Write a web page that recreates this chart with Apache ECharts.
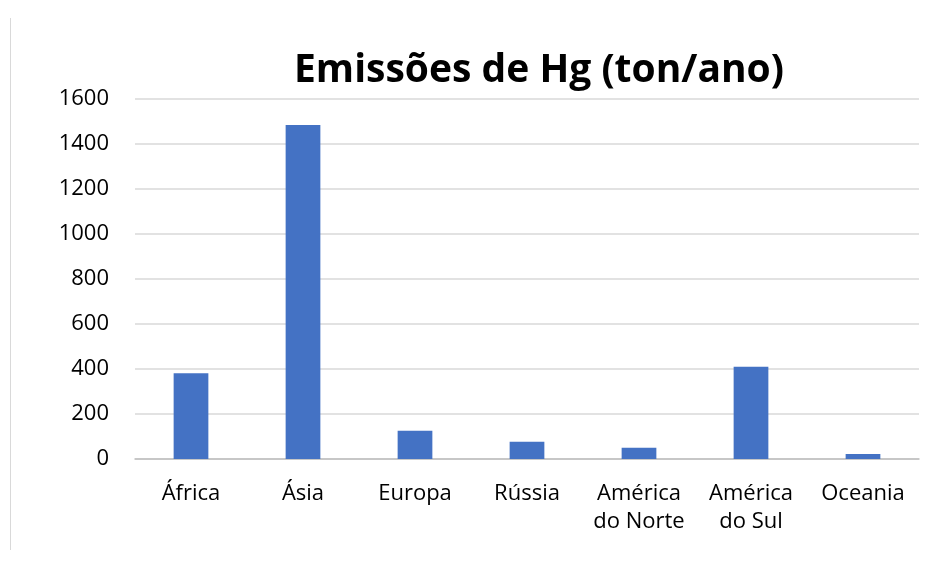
<!DOCTYPE html>
<html>
<head>
<meta charset="utf-8">
<script src="https://cdn.jsdelivr.net/npm/echarts@6/dist/echarts.min.js"></script>
<style>
	html, body { margin: 0; padding: 0; background: #fff; }
	#chart { width: 934px; height: 562px; }
</style>
</head>
<body>
<div id="chart"></div>
<script>
const regioes = ['África', 'Ásia', 'Europa', 'Rússia', 'América\ndo Norte', 'América\ndo Sul', 'Oceania']
const emissoes = [381, 1484, 126, 77, 50, 410, 22]

const chart = echarts.init(document.getElementById('chart'))
chart.setOption({
	animation: false,
	textStyle: { fontFamily: 'Open Sans' },
	title: {
		text: 'Emissões de Hg (ton/ano)',
		left: 534,
		textAlign: 'center',
		top: 46,
		textStyle: {
			fontFamily: 'Open Sans',
			fontSize: 39,
			fontWeight: 'bold',
			color: '#000'
		}
	},
	graphic: [{
		type: 'line',
		shape: { x1: 10.5, y1: 18, x2: 10.5, y2: 550 },
		style: { stroke: '#d9d9d9', lineWidth: 1 }
	}],
	grid: {
		left: 135,
		right: 15,
		top: 99,
		bottom: 103
	},
	xAxis: {
		type: 'category',
		data: regioes,
		axisTick: { show: false },
		axisLine: { lineStyle: { color: '#bfbfbf', width: 1.5 } },
		axisLabel: {
			color: '#000',
			fontSize: 22,
			lineHeight: 28,
			margin: 21,
			interval: 0
		}
	},
	yAxis: {
		type: 'value',
		min: 0,
		max: 1600,
		interval: 200,
		axisLine: { show: false },
		axisTick: { show: false },
		splitLine: { lineStyle: { color: '#d9d9d9', width: 1.5 } },
		axisLabel: {
			color: '#000',
			fontSize: 22,
			margin: 26,
			formatter: v => String(v)
		}
	},
	series: [{
		type: 'bar',
		data: emissoes,
		barWidth: '31%',
		itemStyle: { color: '#4472c4' }
	}]
})
</script>
</body>
</html>
